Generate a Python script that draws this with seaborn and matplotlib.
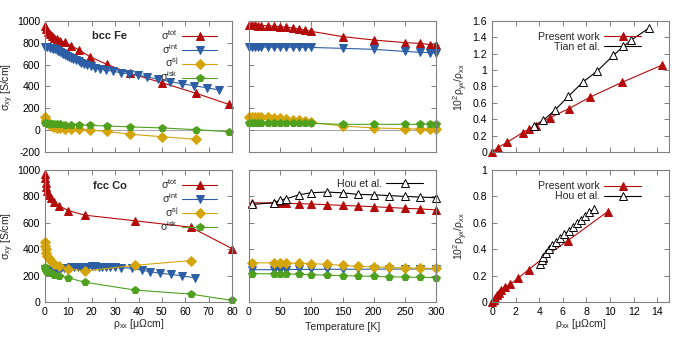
import numpy as np
import matplotlib
matplotlib.use("Agg")
import matplotlib.pyplot as plt
import seaborn as sns
from matplotlib.ticker import FuncFormatter, MultipleLocator

# ---------------- data ----------------
# bcc Fe, sigma vs rho_xx
fe_rho = [0, 0.5, 1.3, 2.3, 3.1, 4.0, 5.0, 6.6, 8.4, 11.1, 14.6, 19.2, 26.4, 36.3, 50.1, 64.8, 78.6]
fe_tot = [951, 921, 894, 876, 860, 845, 833, 818, 803, 772, 733, 672, 602, 520, 434, 337, 237]
fe_sj = [122, 95, 70, 50, 38, 30, 25, 20, 15, 11, 8, 3, -10, -35, -58, -82]
fe_isk = [66, 64, 62, 60, 58, 57, 56, 55, 53, 51, 49, 45, 40, 32, 22, 6, -12]
fe_rho_int = [0, 1.0, 2.0, 2.8, 3.5, 4.3, 5.0, 5.7, 6.4, 7.1, 7.8, 8.7, 9.5, 10.4, 11.2, 12.1,
              13.2, 14.4, 15.5, 16.7, 18.1, 19.5, 21.4, 23.5, 26.1, 29.2, 32.4, 36.0, 39.9,
              43.7, 48.4, 53.4, 58.4, 63.7, 69.1, 74.5]
fe_int = [763, 757, 750, 747, 745, 739, 733, 724, 715, 708, 699, 690, 681, 672, 663, 653,
          642, 630, 617, 608, 596, 584, 571, 560, 550, 539, 526, 514, 502,
          489, 465, 445, 425, 407, 389, 368]

# bcc Fe, sigma vs temperature
fe_T = [0, 5, 10, 15, 20, 30, 40, 50, 60, 70, 80, 90, 100, 150, 200, 250, 275, 290, 300]
fe_T_tot = [957, 957, 957, 956, 956, 955, 950, 946, 940, 933, 925, 915, 903, 855, 824, 800, 793, 782, 778]
fe_T_int = [760, 760, 760, 760, 759, 759, 759, 758, 758, 757, 757, 756, 756, 748, 739, 720, 712, 708, 708]
fe_T_sj = [125, 125, 124, 123, 122, 118, 114, 110, 104, 98, 90, 82, 72, 40, 22, 15, 12, 10, 9]
fe_T_isk = [64, 64, 64, 64, 64, 64, 64, 64, 64, 64, 64, 64, 64, 55, 55, 55, 55, 56, 58]

# fcc Co, sigma vs rho_xx
co_rho = [0, 0.1, 0.3, 0.6, 1.0, 1.6, 2.4, 3.8, 5.9, 10.0, 17.0, 38.6, 62.3, 80.0]
co_tot = [970, 940, 905, 870, 840, 812, 785, 755, 730, 692, 658, 615, 567, 405]
co_sj = [452, 425, 400, 375, 352, 330, 310, 290, 272, 250, 235, 278, 314]
co_isk = [262, 250, 242, 236, 230, 224, 217, 208, 200, 182, 150, 90, 60, 12]
co_rho_int = [0, 1, 2, 3, 4, 5, 6, 7, 8, 9.5, 11, 12.5, 14, 15.5, 17, 18.5, 20, 21.5, 23,
              24.5, 26, 28, 30, 32.5, 37.1, 41.3, 44.9, 49.4, 54.1, 58.8, 64.1]
co_int = [250, 244, 240, 241, 244, 248, 251, 254, 257, 260, 262, 264, 266, 267, 268, 268,
          269, 269, 268, 268, 267, 266, 264, 261, 255, 242, 230, 217, 210, 197, 184]

# fcc Co, sigma vs temperature
co_T = [5, 40, 50, 60, 80, 100, 125, 150, 175, 200, 225, 250, 275, 300]
co_T_tot = [752, 750, 749, 747, 745, 742, 737, 732, 727, 722, 716, 710, 705, 698]
co_T_int = [245, 245, 246, 246, 247, 247, 248, 248, 248, 249, 249, 250, 250, 250]
co_T_sj = [296, 297, 296, 295, 293, 291, 285, 278, 270, 266, 262, 258, 256, 254]
co_T_isk = [215, 213, 213, 212, 210, 207, 203, 200, 197, 194, 191, 189, 187, 185]
hou_T = [5, 40, 50, 60, 80, 100, 125, 150, 175, 200, 225, 250, 275, 300]
hou_T_sig = [739, 752, 772, 782, 812, 828, 833, 827, 815, 812, 806, 800, 795, 790]

# 10^2 rho_yx / rho_xx vs rho_xx
fe_ratio_rho = [0, 0.5, 1.27, 2.6, 3.1, 3.7, 4.9, 6.5, 8.3, 11.0, 14.4]
fe_ratio = [0, 0.057, 0.12, 0.24, 0.28, 0.32, 0.42, 0.53, 0.67, 0.85, 1.06]
tian_rho = [3.54, 4.36, 5.31, 6.47, 7.67, 8.94, 10.29, 11.75, 13.3]
tian_ratio = [0.32, 0.39, 0.51, 0.68, 0.85, 0.99, 1.18, 1.36, 1.51]
co_ratio_rho = [0, 0.14, 0.28, 0.42, 0.6, 0.8, 1.07, 1.55, 2.2, 3.1, 4.36, 6.4, 9.8]
co_ratio = [0, 0.018, 0.033, 0.05, 0.068, 0.089, 0.11, 0.134, 0.18, 0.245, 0.335, 0.463, 0.685]
hou_rho = [4.1, 4.25, 4.36, 4.58, 4.81, 5.09, 5.43, 5.77, 6.13, 6.49, 6.83, 7.17, 7.54, 7.9, 8.24, 8.66]
hou_ratio = [0.29, 0.317, 0.342, 0.375, 0.405, 0.43, 0.456, 0.486, 0.512, 0.537, 0.565, 0.595, 0.62, 0.653, 0.679, 0.704]

# ---------------- style ----------------
sns.set_style("ticks")
plt.rcParams['font.family'] = ['Liberation Sans', 'DejaVu Sans']
plt.rcParams.update({
    'mathtext.fontset': 'custom',
    'mathtext.rm': 'Liberation Sans',
    'mathtext.it': 'Liberation Sans:italic',
    'mathtext.bf': 'Liberation Sans:bold',
    'font.size': 7.6,
    'axes.edgecolor': '#808080',
    'axes.linewidth': 0.8,
    'xtick.direction': 'in', 'ytick.direction': 'in',
    'xtick.top': True, 'ytick.right': True,
    'xtick.color': '#808080', 'ytick.color': '#808080',
    'xtick.labelcolor': 'black', 'ytick.labelcolor': 'black',
    'xtick.major.size': 3.5, 'ytick.major.size': 3.5,
    'xtick.major.width': 0.7, 'ytick.major.width': 0.7,
    'xtick.labelsize': 7.6, 'ytick.labelsize': 7.6,
    'axes.labelsize': 7.6,
})

RED = '#b50a0a'
BLUE = '#2c5ea5'
GOLD = '#d4a50a'
GREEN = '#4ea01e'

fmt = FuncFormatter(lambda v, p: '%g' % round(v, 6))


def series(ax, x, y, color, marker, ms, label=None, mfc=None):
    sns.lineplot(x=x, y=y, ax=ax, color=color, linewidth=0.8, marker=marker,
                 markersize=ms, markeredgecolor=color,
                 markerfacecolor=mfc if mfc else color, markeredgewidth=0.7,
                 sort=False, estimator=None, label=label, clip_on=False)


fig = plt.figure(figsize=(6.79, 3.40), dpi=100)
W = 679.0
H = 340.0
colx = [(45, 187), (249, 187), (492, 177)]
rowy = [(20.7, 131.6), (170, 132)]


def make_ax(c, r):
    x0, w = colx[c]
    y0, h = rowy[r]
    return fig.add_axes([x0 / W, 1 - (y0 + h) / H, w / W, h / H])


sig_labels = [r'σ$^{\rm tot}$', r'σ$^{\rm int}$', r'σ$^{\rm sj}$', r'σ$^{\rm isk}$']
sig_legend = dict(loc='upper right', bbox_to_anchor=(0.96, 1.0), frameon=False, markerfirst=False,
                  handlelength=3.3, handletextpad=0.4, labelspacing=0.0, borderpad=0.2,
                  fontsize=7.6)
ref_legend = dict(loc='upper left', bbox_to_anchor=(0.22, 0.97), frameon=False, markerfirst=False,
                  handlelength=3.5, handletextpad=0.4, labelspacing=0.0, borderpad=0.2,
                  fontsize=7.6)

# ---- top-left: bcc Fe vs rho ----
ax = make_ax(0, 0)
ax.axhline(0, color='#a8a8a8', lw=0.8, zorder=0)
series(ax, fe_rho, fe_tot, RED, '^', 6, sig_labels[0])
series(ax, fe_rho_int, fe_int, BLUE, 'v', 6, sig_labels[1])
series(ax, fe_rho[:len(fe_sj)], fe_sj, GOLD, 'D', 5, sig_labels[2])
series(ax, fe_rho, fe_isk, GREEN, 'p', 6, sig_labels[3])
ax.set_xlim(0, 80)
ax.set_ylim(-200, 1000)
ax.xaxis.set_major_locator(MultipleLocator(10))
ax.yaxis.set_major_locator(MultipleLocator(200))
ax.yaxis.set_major_formatter(fmt)
ax.set_xticklabels([])
ax.set_xlabel('')
ax.set_ylabel(r'σ$_{\rm xy}$ [S/cm]', labelpad=1)
ax.text(0.346, 0.884, 'bcc Fe', transform=ax.transAxes, ha='center', va='center',
        fontweight='bold', fontsize=8)
ax.legend(**sig_legend)

# ---- top-middle: bcc Fe vs T ----
ax = make_ax(1, 0)
ax.axhline(0, color='#a8a8a8', lw=0.8, zorder=0)
series(ax, fe_T, fe_T_tot, RED, '^', 6)
series(ax, fe_T, fe_T_int, BLUE, 'v', 6)
series(ax, fe_T, fe_T_sj, GOLD, 'D', 5)
series(ax, fe_T, fe_T_isk, GREEN, 'p', 6)
ax.set_xlim(0, 300)
ax.set_ylim(-200, 1000)
ax.xaxis.set_major_locator(MultipleLocator(50))
ax.yaxis.set_major_locator(MultipleLocator(200))
ax.set_xticklabels([])
ax.set_yticklabels([])
ax.set_xlabel('')
ax.set_ylabel('')

# ---- top-right: Fe ratio ----
ax = make_ax(2, 0)
series(ax, fe_ratio_rho, fe_ratio, RED, '^', 6, 'Present work')
series(ax, tian_rho, tian_ratio, 'black', '^', 6, 'Tian et al.', mfc='white')
ax.set_xlim(0, 15)
ax.set_ylim(0, 1.6)
ax.xaxis.set_major_locator(MultipleLocator(2))
ax.yaxis.set_major_locator(MultipleLocator(0.2))
ax.yaxis.set_major_formatter(fmt)
ax.set_xticklabels([])
ax.set_xlabel('')
ax.set_ylabel(r'10$^2$ρ$_{\rm yx}$/ρ$_{\rm xx}$', labelpad=2)
ax.legend(**ref_legend)

# ---- bottom-left: fcc Co vs rho ----
ax = make_ax(0, 1)
series(ax, co_rho, co_tot, RED, '^', 6, sig_labels[0])
series(ax, co_rho_int, co_int, BLUE, 'v', 6, sig_labels[1])
series(ax, co_rho[:len(co_sj)], co_sj, GOLD, 'D', 5, sig_labels[2])
series(ax, co_rho, co_isk, GREEN, 'p', 6, sig_labels[3])
ax.set_xlim(0, 80)
ax.set_ylim(0, 1000)
ax.xaxis.set_major_locator(MultipleLocator(10))
ax.yaxis.set_major_locator(MultipleLocator(200))
ax.yaxis.set_major_formatter(fmt)
ax.set_ylabel(r'σ$_{\rm xy}$ [S/cm]', labelpad=1)
ax.set_xlabel(r'ρ$_{\rm xx}$ [μΩcm]', labelpad=0)
ax.text(0.345, 0.879, 'fcc Co', transform=ax.transAxes, ha='center', va='center',
        fontweight='bold', fontsize=8)
ax.legend(**sig_legend)

# ---- bottom-middle: fcc Co vs T ----
ax = make_ax(1, 1)
series(ax, co_T, co_T_tot, RED, '^', 6)
series(ax, co_T, co_T_int, BLUE, 'v', 6)
series(ax, co_T, co_T_sj, GOLD, 'D', 5)
series(ax, co_T, co_T_isk, GREEN, 'p', 6)
series(ax, hou_T, hou_T_sig, 'black', '^', 6, 'Hou et al.', mfc='white')
ax.set_xlim(0, 300)
ax.set_ylim(0, 1000)
ax.xaxis.set_major_locator(MultipleLocator(50))
ax.yaxis.set_major_locator(MultipleLocator(200))
ax.set_yticklabels([])
ax.set_ylabel('')
ax.set_xlabel('Temperature [K]', labelpad=4)
ax.legend(loc='upper right', bbox_to_anchor=(0.97, 0.99), frameon=False, markerfirst=False,
          handlelength=3.5, handletextpad=0.4, borderpad=0.2, fontsize=7.6)

# ---- bottom-right: Co ratio ----
ax = make_ax(2, 1)
series(ax, co_ratio_rho, co_ratio, RED, '^', 6, 'Present work')
series(ax, hou_rho, hou_ratio, 'black', '^', 6, 'Hou et al.', mfc='white')
ax.set_xlim(0, 15)
ax.set_ylim(0, 1)
ax.xaxis.set_major_locator(MultipleLocator(2))
ax.yaxis.set_major_locator(MultipleLocator(0.2))
ax.yaxis.set_major_formatter(fmt)
ax.set_ylabel(r'10$^2$ρ$_{\rm yx}$/ρ$_{\rm xx}$', labelpad=2)
ax.set_xlabel(r'ρ$_{\rm xx}$ [μΩcm]', labelpad=0)
ax.legend(**ref_legend)

fig.savefig('out.png', dpi=100)
